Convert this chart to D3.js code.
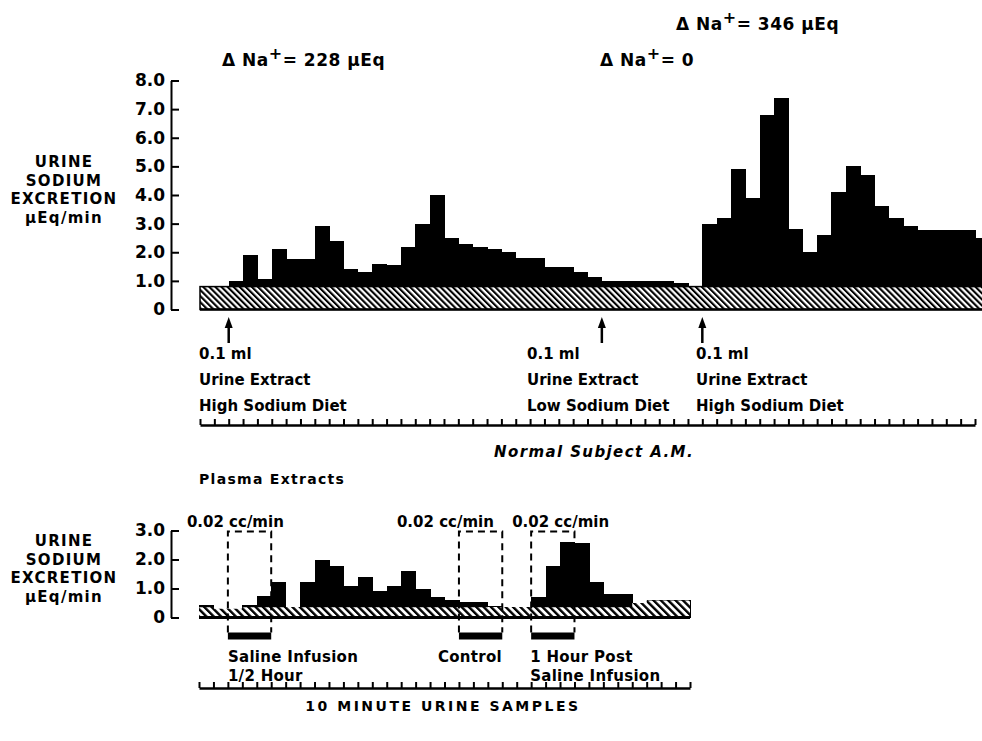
<!DOCTYPE html>
<html>
<head>
<meta charset="utf-8">
<script src="https://cdn.jsdelivr.net/npm/d3@7"></script>
<style>
  body { margin: 0; background: #fff; }
  svg { display: block; font-family: "DejaVu Sans", sans-serif; font-weight: bold; }
</style>
</head>
<body>
<div id="chart"></div>
<script>
// Urine extracts: sodium excretion per 10 minute sample (µEq/min)
const urineValues = [
  0.8, 0.8, 1.0, 1.9, 1.05, 2.1, 1.75, 1.75, 2.9, 2.4, 1.4, 1.3, 1.6, 1.55,
  2.2, 3.0, 4.0, 2.5, 2.3, 2.2, 2.1, 2.0, 1.8, 1.8, 1.5, 1.5, 1.3, 1.15,
  1.0, 1.0, 1.0, 1.0, 1.0, 0.93, 0.8,
  3.0, 3.2, 4.9, 3.9, 6.8, 7.4, 2.8, 2.0, 2.6, 4.1, 5.0, 4.7, 3.6, 3.2, 2.9,
  2.77, 2.77, 2.77, 2.77, 2.5
];
const urineControl = 0.8; // hatched control excretion
const urineTicks = [0, 1, 2, 3, 4, 5, 6, 7, 8];
const injectionSamples = [2, 28, 35];
const injectionLabels = [
  ["0.1 ml", "Urine Extract", "High Sodium Diet"],
  ["0.1 ml", "Urine Extract", "Low Sodium Diet"],
  ["0.1 ml", "Urine Extract", "High Sodium Diet"]
];
const deltaNa = ["228 μEq", "0", "346 μEq"];

// Plasma extracts
const plasmaValues = [
  0.42, 0.3, 0.3, 0.44, 0.75, 1.21, 0.36, 1.21, 1.99, 1.79, 1.1, 1.38, 0.93,
  1.1, 1.59, 0.98, 0.7, 0.61, 0.52, 0.52, 0.4, 0.36, 0.36, 0.69, 1.76, 2.59,
  2.57, 1.21, 0.81, 0.81, 0.5, 0.59, 0.59, 0.59
];
const plasmaControl = [
  0.35, 0.3, 0.3, 0.35, 0.35, 0.35, 0.36, 0.35, 0.35, 0.35, 0.35, 0.35, 0.35,
  0.35, 0.35, 0.35, 0.35, 0.35, 0.35, 0.35, 0.36, 0.36, 0.36, 0.35, 0.35, 0.35,
  0.35, 0.35, 0.35, 0.35, 0.5, 0.59, 0.59, 0.59
];
const plasmaTicks = [0, 1, 2, 3];
const infusionStarts = [2, 18, 23];
const infusionLength = 3;
const infusionRate = "0.02 cc/min";
const infusionLabels = [
  ["Saline Infusion", "1/2 Hour"],
  ["Control"],
  ["1 Hour Post", "Saline Infusion"]
];

const width = 982;
const height = 741;

const svg = d3.select("#chart")
  .append("svg")
  .attr("width", width)
  .attr("height", height);

const defs = svg.append("defs");

function hatch(id, gap, line) {
  const p = defs.append("pattern")
    .attr("id", id)
    .attr("patternUnits", "userSpaceOnUse")
    .attr("width", gap)
    .attr("height", 20)
    .attr("patternTransform", "rotate(-45)");
  p.append("rect").attr("width", gap).attr("height", 20).attr("fill", "#fff");
  p.append("rect").attr("width", line).attr("height", 20).attr("fill", "#000");
}
hatch("hatchTop", 4.3, 2.1);
hatch("hatchLow", 5.2, 2.4);

const fmt = (d) => (d === 0 ? "0" : d.toFixed(1));

// y axis title, stacked
function yTitle(lines, yStart) {
  svg.append("text")
    .attr("x", 64)
    .attr("y", yStart)
    .attr("text-anchor", "middle")
    .attr("font-size", 15)
    .attr("letter-spacing", 1.3)
    .selectAll("tspan")
    .data(lines)
    .join("tspan")
    .attr("x", 64)
    .attr("dy", (d, i) => (i === 0 ? 0 : 18.5))
    .text((d) => d);
}

// --- Upper panel -------------------------------------------------------
const xTop = d3.scaleLinear().domain([0, 54]).range([200, 975]);
const yTop = d3.scaleLinear().domain([0, 8]).range([309.5, 80.5]);

const upper = svg.append("g");

upper.append("g")
  .selectAll("rect")
  .data(urineValues)
  .join("rect")
  .attr("x", (d, i) => xTop(i))
  .attr("width", (d, i) => xTop(i + 1) - xTop(i) + 0.6)
  .attr("y", (d) => yTop(d))
  .attr("height", (d) => yTop(0) - yTop(d))
  .attr("fill", "#000")
  .attr("shape-rendering", "crispEdges");

upper.append("rect")
  .attr("x", xTop(0))
  .attr("y", yTop(urineControl))
  .attr("width", xTop(urineValues.length) - xTop(0))
  .attr("height", yTop(0) - yTop(urineControl))
  .attr("fill", "url(#hatchTop)")
  .attr("stroke", "#000")
  .attr("stroke-width", 1.5);

upper.append("line")
  .attr("x1", xTop(0))
  .attr("x2", xTop(urineValues.length))
  .attr("y1", yTop(0))
  .attr("y2", yTop(0))
  .attr("stroke", "#000")
  .attr("stroke-width", 2.5);

const topAxis = upper.append("g")
  .attr("transform", "translate(171,0)")
  .call(d3.axisLeft(yTop).tickValues(urineTicks).tickFormat(fmt)
    .tickSize(-8).tickSizeOuter(0).tickPadding(6));
topAxis.select(".domain").attr("stroke-width", 2);
topAxis.selectAll(".tick line").attr("stroke-width", 2);
topAxis.selectAll("text")
  .attr("font-size", 17)
  .attr("font-family", "DejaVu Sans")
  .attr("font-weight", "bold")
  .attr("fill", "#000");

yTitle(["URINE", "SODIUM", "EXCRETION", "μEq/min"], 167);

// delta Na annotations
const deltaPos = [[222, 66], [600, 66], [676, 30]];
deltaNa.forEach((label, i) => {
  const t = svg.append("text")
    .attr("x", deltaPos[i][0])
    .attr("y", deltaPos[i][1])
    .attr("font-size", 17)
    .attr("letter-spacing", 0.5);
  t.append("tspan").text("Δ Na");
  t.append("tspan").attr("dy", -7).attr("font-size", 16).text("+");
  t.append("tspan").attr("dy", 7).text("= " + label);
});

// injection arrows
injectionSamples.forEach((s) => {
  const x = xTop(s);
  upper.append("line")
    .attr("x1", x).attr("x2", x)
    .attr("y1", 326).attr("y2", 343)
    .attr("stroke", "#000").attr("stroke-width", 2.5);
  upper.append("path")
    .attr("d", `M${x - 4},328 L${x},317 L${x + 4},328 Z`)
    .attr("fill", "#000");
});

const injectionX = [199, 527, 696];
injectionLabels.forEach((lines, i) => {
  svg.append("text")
    .attr("font-size", 15)
    .selectAll("tspan")
    .data(lines)
    .join("tspan")
    .attr("x", injectionX[i])
    .attr("y", (d, j) => 359 + j * 26)
    .text((d) => d);
});

// sample ruler
const topRuler = svg.append("g")
  .attr("transform", "translate(0,425)")
  .call(d3.axisTop(xTop).tickValues(d3.range(0, 55)).tickFormat("")
    .tickSize(6).tickSizeOuter(0));
topRuler.select(".domain").attr("stroke-width", 2.5);
topRuler.selectAll(".tick line").attr("stroke-width", 2);

svg.append("text")
  .attr("x", 594)
  .attr("y", 457)
  .attr("text-anchor", "middle")
  .attr("font-size", 15)
  .attr("font-style", "italic")
  .attr("letter-spacing", 1.4)
  .text("Normal Subject A.M.");

svg.append("text")
  .attr("x", 199)
  .attr("y", 484)
  .attr("font-size", 14)
  .attr("letter-spacing", 1.3)
  .text("Plasma Extracts");

// --- Lower panel -------------------------------------------------------
const xLow = d3.scaleLinear().domain([0, 34]).range([199, 690]);
const yLow = d3.scaleLinear().domain([0, 3]).range([617.5, 530.5]);

const lower = svg.append("g");

lower.append("g")
  .selectAll("rect")
  .data(plasmaValues)
  .join("rect")
  .attr("x", (d, i) => xLow(i))
  .attr("width", (d, i) => xLow(i + 1) - xLow(i) + 0.6)
  .attr("y", (d) => yLow(d))
  .attr("height", (d) => yLow(0) - yLow(d))
  .attr("fill", "#000")
  .attr("shape-rendering", "crispEdges");

const controlArea = d3.area()
  .x((d, i) => xLow(i))
  .y0(yLow(0))
  .y1((d) => yLow(d))
  .curve(d3.curveStepAfter);

lower.append("path")
  .datum(plasmaControl.concat([plasmaControl[plasmaControl.length - 1]]))
  .attr("d", controlArea)
  .attr("fill", "url(#hatchLow)");

lower.append("line")
  .attr("x1", xLow(0))
  .attr("x2", xLow(plasmaValues.length))
  .attr("y1", yLow(0))
  .attr("y2", yLow(0))
  .attr("stroke", "#000")
  .attr("stroke-width", 3);

const lowAxis = lower.append("g")
  .attr("transform", "translate(171,0)")
  .call(d3.axisLeft(yLow).tickValues(plasmaTicks).tickFormat(fmt)
    .tickSize(-8).tickSizeOuter(0).tickPadding(6));
lowAxis.select(".domain").attr("stroke-width", 2);
lowAxis.selectAll(".tick line").attr("stroke-width", 2);
lowAxis.selectAll("text")
  .attr("font-size", 17)
  .attr("font-family", "DejaVu Sans")
  .attr("font-weight", "bold")
  .attr("fill", "#000");

yTitle(["URINE", "SODIUM", "EXCRETION", "μEq/min"], 546);

// infusion periods: dashed boxes, black bars and labels
const barY = yLow(0) + 15;
const rateOffset = [-41, -62, -19];
const labelOffset = [0, -21, -1];
infusionStarts.forEach((s, i) => {
  const x0 = xLow(s);
  const x1 = xLow(s + infusionLength);
  lower.append("path")
    .attr("d", `M${x0},${barY} V${yLow(3) + 1} H${x1} V${barY}`)
    .attr("fill", "none")
    .attr("stroke", "#000")
    .attr("stroke-width", 2)
    .attr("stroke-dasharray", "7,5");
  lower.append("rect")
    .attr("x", x0)
    .attr("y", barY)
    .attr("width", x1 - x0)
    .attr("height", 7)
    .attr("fill", "#000");
  svg.append("text")
    .attr("x", x0 + rateOffset[i])
    .attr("y", 527)
    .attr("font-size", 15)
    .text(infusionRate);
  svg.append("text")
    .attr("font-size", 15)
    .attr("letter-spacing", 0.3)
    .selectAll("tspan")
    .data(infusionLabels[i])
    .join("tspan")
    .attr("x", x0 + labelOffset[i])
    .attr("y", (d, j) => 662 + j * 18.5)
    .text((d) => d);
});

const lowRuler = svg.append("g")
  .attr("transform", "translate(0,688)")
  .call(d3.axisTop(xLow).tickValues(d3.range(0, 35)).tickFormat("")
    .tickSize(6).tickSizeOuter(0));
lowRuler.select(".domain").attr("stroke-width", 2.5);
lowRuler.selectAll(".tick line").attr("stroke-width", 2);

svg.append("text")
  .attr("x", 443)
  .attr("y", 711)
  .attr("text-anchor", "middle")
  .attr("font-size", 14)
  .attr("letter-spacing", 2.5)
  .text("10 MINUTE URINE SAMPLES");
</script>
</body>
</html>
